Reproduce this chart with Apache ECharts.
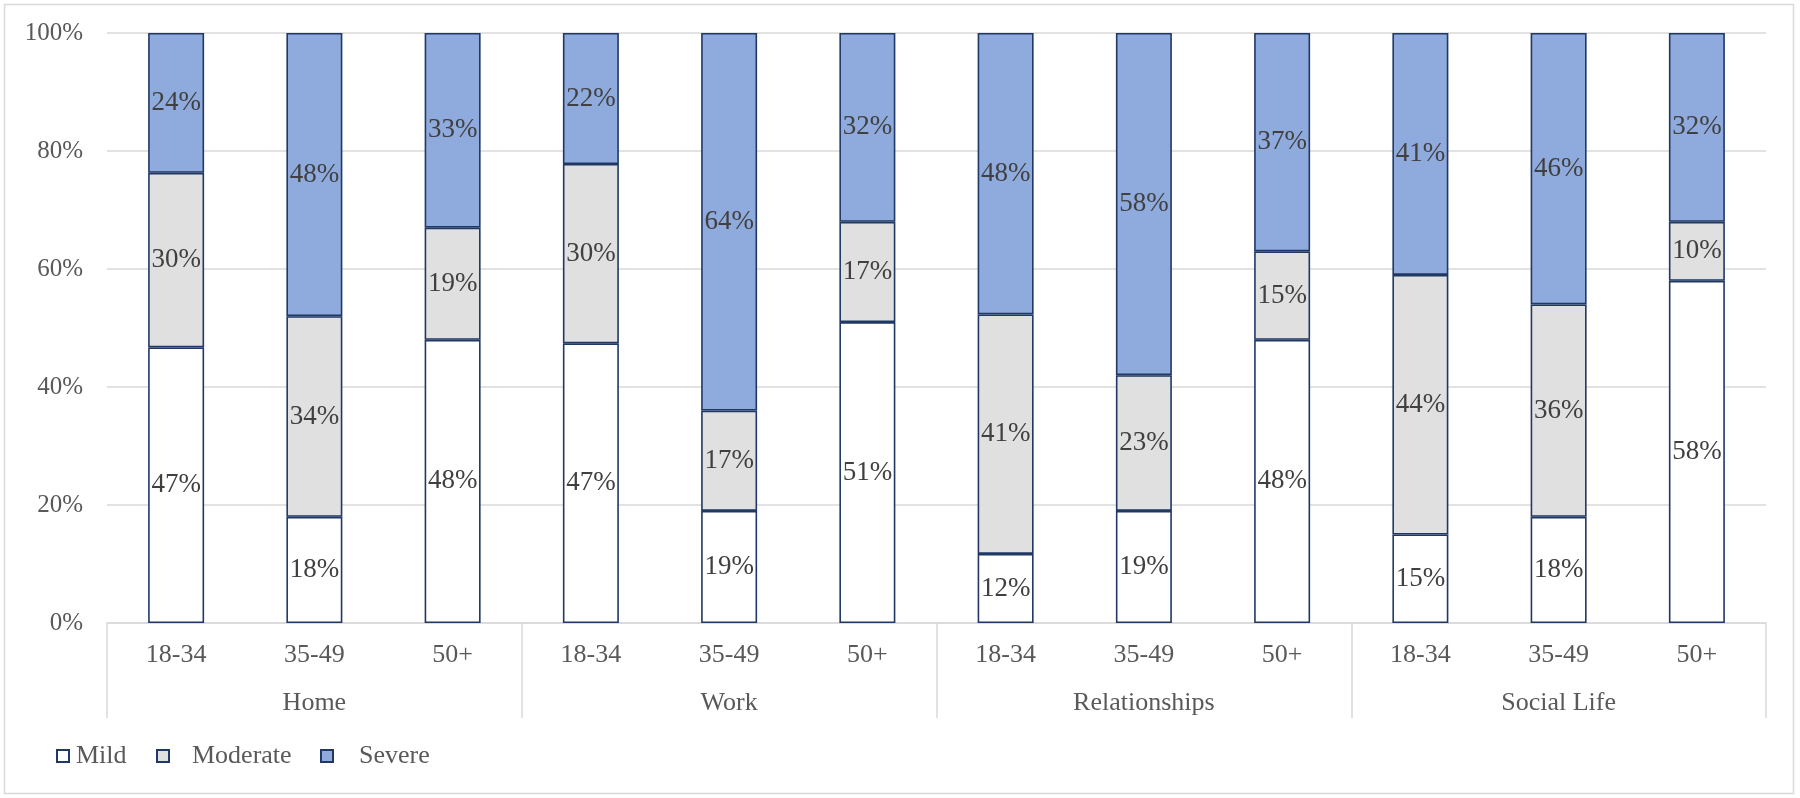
<!DOCTYPE html>
<html><head><meta charset="utf-8">
<script src="https://cdn.jsdelivr.net/npm/echarts@6/dist/echarts.min.js"></script>
<style>html,body{margin:0;padding:0;background:#fff}#c{width:1800px;height:798px}</style>
</head><body><div id="c"></div>
<script>
const ageGroups = ['18-34','35-49','50+','18-34','35-49','50+','18-34','35-49','50+','18-34','35-49','50+'];
const domains = ['Home','Work','Relationships','Social Life'];
const mild     = [46.7, 18, 48, 47.4, 19, 51, 11.7, 19, 48, 15, 18, 58];
const moderate = [29.6, 34, 19, 30.4, 17, 17, 40.6, 23, 15, 44, 36, 10];
const severe   = [23.7, 48, 33, 22.2, 64, 32, 47.7, 58, 37, 41, 46, 32];
const yTicks = [0, 20, 40, 60, 80, 100];

const FONT = 'Liberation Serif';
const TXT = '#595959';
const chart = echarts.init(document.getElementById('c'), null, {renderer:'canvas'});
const mkSeries = (name, data, color) => ({
  name, type:'bar', stack:'s', data, xAxisIndex:0, barWidth:'40.5%',
  itemStyle:{color, borderColor:'#203864', borderWidth:1.6},
  label:{show:true, position:'inside', formatter:p=>Math.round(p.value)+'%',
    fontFamily:FONT, fontSize:27, color:'#404040'},
  emphasis:{disabled:true}
});
const legendBase = (name, left, gap) => ({
  data:[name], left, top:738, itemWidth:12, itemHeight:12, itemGap:0,
  icon:'rect',
  textStyle:{fontFamily:FONT, fontSize:26, color:TXT, padding:[0,0,0,gap]},
  selectedMode:false
});
chart.setOption({
  animation:false,
  graphic:[{type:'rect', shape:{x:4.5,y:4.5,width:1789,height:789}, style:{fill:null, stroke:'#d9d9d9', lineWidth:1.5}}],
  legend:[legendBase('Mild',51,2), legendBase('Moderate',151,18), legendBase('Severe',315,21)],
  grid:{left:107, right:34, top:33, bottom:175},
  xAxis:[
    {type:'category', data:ageGroups, position:'bottom', offset:0,
     axisLine:{show:true, lineStyle:{color:'#d9d9d9', width:1.5}},
     axisTick:{show:false},
     axisLabel:{fontFamily:FONT, fontSize:26, color:TXT, margin:19}},
    {type:'category', data:domains, position:'bottom', offset:0,
     axisLine:{show:false},
     axisTick:{show:true, length:95, interval:0, lineStyle:{color:'#d9d9d9', width:1.5}},
     axisLabel:{fontFamily:FONT, fontSize:26, color:TXT, margin:67}}
  ],
  yAxis:{type:'value', min:yTicks[0], max:yTicks[yTicks.length-1], interval:20,
    axisLabel:{formatter:'{value}%', fontFamily:FONT, fontSize:25, color:TXT, margin:24},
    splitLine:{lineStyle:{color:'#d9d9d9', width:1.5}},
    axisLine:{show:false}, axisTick:{show:false}},
  series:[
    mkSeries('Mild', mild, '#ffffff'),
    mkSeries('Moderate', moderate, '#e0e0e0'),
    mkSeries('Severe', severe, '#8faadc')
  ]
});
</script></body></html>
